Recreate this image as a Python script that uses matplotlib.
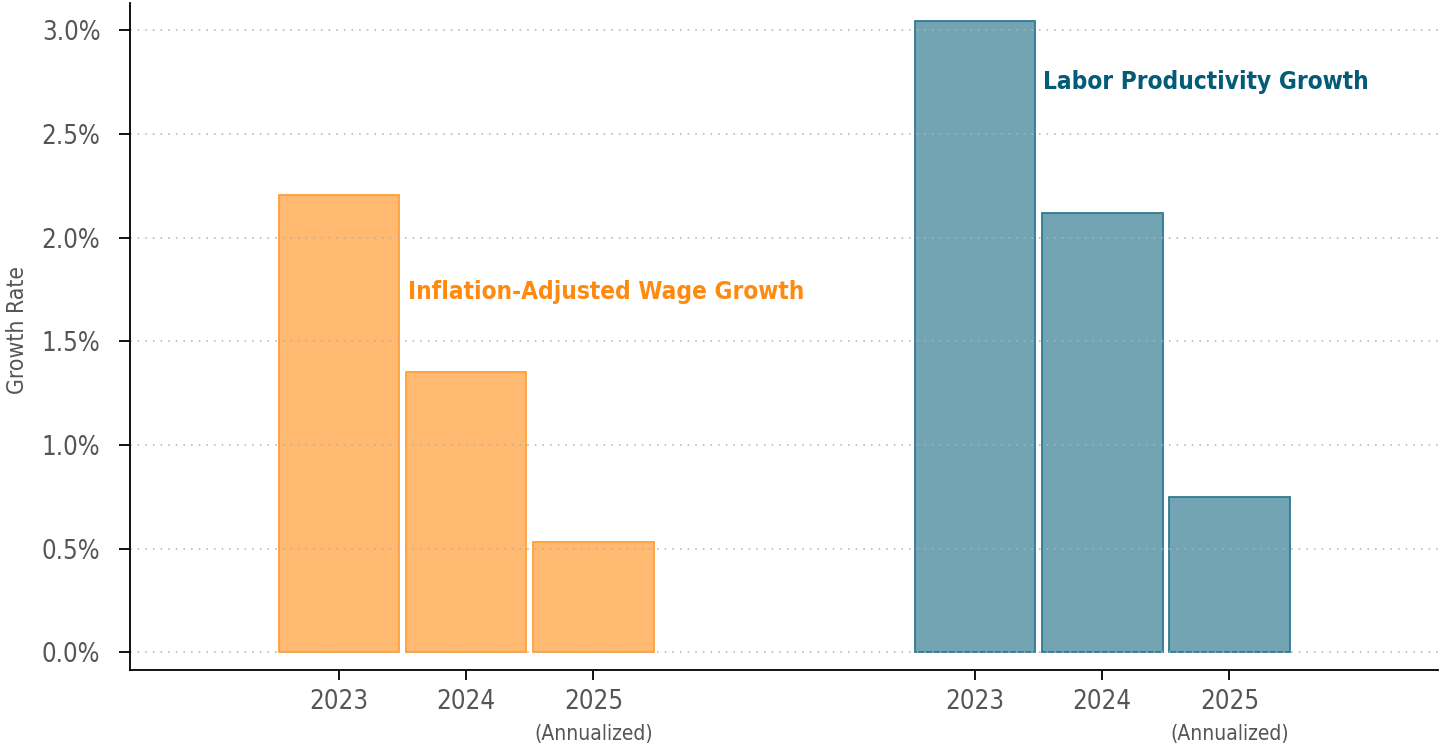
import numpy as np
from matplotlib import pyplot as plt
from matplotlib import transforms

plt.rcParams['font.family'] = ['Liberation Sans Narrow', 'DejaVu Sans']
plt.rcParams['font.stretch'] = 'condensed'

years = ['2023', '2024', '2025']
wage_growth = [2.205, 1.35, 0.53]
productivity_growth = [3.043, 2.12, 0.75]
yticks = [0.0, 0.5, 1.0, 1.5, 2.0, 2.5, 3.0]

wage_pos = np.arange(3)
prod_pos = np.arange(3) + 5

fig = plt.figure(figsize=(14.41, 7.46), dpi=100)
ax = fig.add_axes([0.0899, 0.1019, 0.9081, 0.8941])

ax.bar(wage_pos, wage_growth, width=0.947, color='#ffb970', edgecolor='#ff9f3a', linewidth=1.3, zorder=1)
ax.bar(prod_pos, productivity_growth, width=0.947, color='#72a4b4', edgecolor='#2f7a92', linewidth=1.3, zorder=1)

for y in yticks:
    ax.axhline(y, color='#b0b0b0', linestyle=(0, (1, 4)), linewidth=1.1, zorder=2)

ax.set_xlim(-1.647, 8.64)
ax.set_ylim(-0.0854, 3.132)
ax.set_yticks(yticks)
ax.set_yticklabels([f'{v:.1f}%' for v in yticks])
ax.set_xticks(list(wage_pos) + list(prod_pos))
ax.set_xticklabels(years + years)

ax.tick_params(axis='y', direction='out', length=8, width=1.3, pad=13, labelsize=18.5, labelcolor='#555555')
ax.tick_params(axis='x', direction='out', length=7, width=1.3, pad=7, labelsize=18.5, labelcolor='#555555')

for side in ['top', 'right']:
    ax.spines[side].set_visible(False)
for side in ['left', 'bottom']:
    ax.spines[side].set_linewidth(1.3)

ax.set_ylabel('Growth Rate', fontsize=16.5, color='#555555')
ax.yaxis.set_label_coords(-0.077, 0.51)

trans = transforms.blended_transform_factory(ax.transData, fig.transFigure)
for x in [wage_pos[2], prod_pos[2]]:
    ax.text(x, 1 - 734 / 746, '(Annualized)', transform=trans, ha='center', va='center',
            fontsize=15, color='#555555')

ax.text(0.54, 1.74, 'Inflation-Adjusted Wage Growth', fontsize=17.5, fontweight='bold',
        color='#ff8a10', va='center', ha='left')
ax.text(5.535, 2.75, 'Labor Productivity Growth', fontsize=17.5, fontweight='bold',
        color='#035b78', va='center', ha='left')

fig.savefig('out.png', dpi=100)
